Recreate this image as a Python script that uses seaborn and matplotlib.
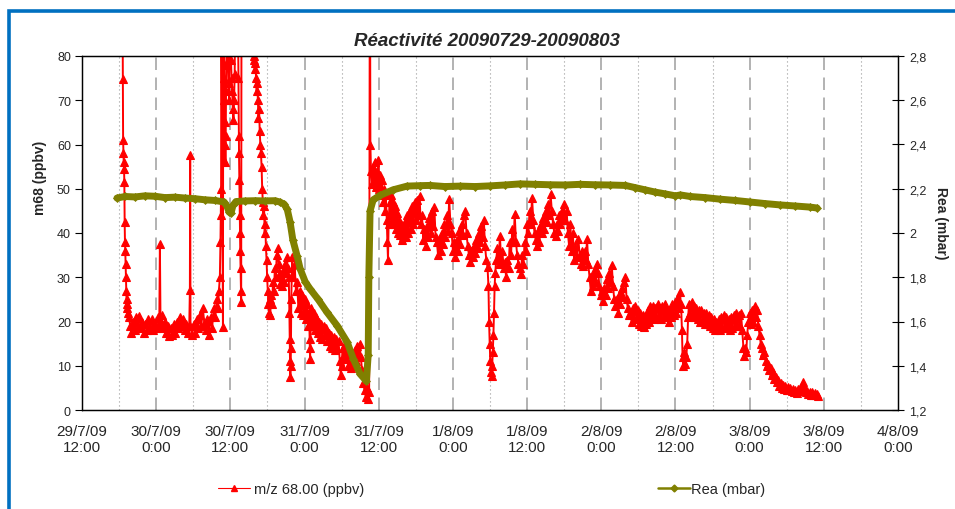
import matplotlib
matplotlib.use("Agg")
import matplotlib.pyplot as plt
import numpy as np
import pandas as pd
import seaborn as sns
from matplotlib.lines import Line2D
from matplotlib.patches import Rectangle

# ---------------- data (hours since 29/7/09 12:00) ----------------
title = "Réactivité 20090729-20090803"
x_tick_hours = [0, 12, 24, 36, 48, 60, 72, 84, 96, 108, 120, 132]
x_tick_labels = ["29/7/09\n12:00", "30/7/09\n0:00", "30/7/09\n12:00", "31/7/09\n0:00",
                 "31/7/09\n12:00", "1/8/09\n0:00", "1/8/09\n12:00", "2/8/09\n0:00",
                 "2/8/09\n12:00", "3/8/09\n0:00", "3/8/09\n12:00", "4/8/09\n0:00"]
m68_ticks = [0, 10, 20, 30, 40, 50, 60, 70, 80]
rea_ticks = [1.2, 1.4, 1.6, 1.8, 2.0, 2.2, 2.4, 2.6, 2.8]
rea_tick_labels = ["1,2", "1,4", "1,6", "1,8", "2", "2,2", "2,4", "2,6", "2,8"]
legend_labels = ["m/z 68.00 (ppbv)", "Rea (mbar)"]

# m/z 68 (ppbv): (hour, value)
m68_start = [
    (6.55, 95), (6.6, 74.7), (6.65, 61), (6.7, 58), (6.75, 56), (6.8, 54.5), (6.85, 51.5),
    (6.9, 42.5), (6.95, 38), (7.0, 36), (7.05, 33), (7.1, 30), (7.15, 27), (7.2, 25),
    (7.25, 24), (7.3, 23), (7.4, 22), (7.6, 21), (7.8, 19),
    (8.0, 17.5), (8.25, 20), (8.5, 18), (8.75, 21), (9.0, 19), (9.25, 21.2), (9.5, 18.5),
    (9.75, 20), (10.0, 17.5), (10.25, 19.5), (10.5, 18), (10.75, 20.5), (11.0, 18.5),
    (11.25, 20.5), (11.5, 18), (11.75, 19.5), (12.0, 18.5), (12.25, 21), (12.5, 19),
    (12.6, 37.5), (12.7, 20), (12.9, 21.5), (13.1, 18.5), (13.35, 20), (13.6, 17.5),
    (13.85, 19), (14.1, 16.8), (14.35, 18.5), (14.6, 17), (14.85, 19.5), (15.1, 17.5),
    (15.35, 20), (15.6, 18.5), (15.85, 21), (16.1, 19), (16.35, 20.5), (16.6, 18),
    (16.85, 19.5), (17.1, 17.5), (17.35, 19), (17.45, 27.2), (17.5, 57.6), (17.55, 19),
    (17.8, 17), (18.05, 19.5), (18.3, 17.5), (18.55, 20.5), (18.8, 18.5), (19.05, 21.5),
    (19.3, 19), (19.55, 23), (19.8, 19.5), (20.05, 18), (20.3, 20.5), (20.55, 17),
    (20.8, 21), (21.05, 18.5), (21.3, 23), (21.55, 21), (21.8, 25), (22.0, 23),
]
m68_morning = [
    (22.15, 27), (22.3, 30), (22.4, 38), (22.45, 44), (22.5, 50), (22.55, 95), (22.8, 18.8),
    (22.85, 95), (23.0, 75), (23.05, 70), (23.1, 65), (23.15, 60), (23.2, 56), (23.25, 62),
    (23.3, 72), (23.35, 78), (23.4, 95), (23.6, 79), (23.7, 74), (23.8, 70), (23.9, 95),
    (24.1, 79), (24.2, 75), (24.3, 72), (24.4, 68), (24.5, 65.6), (24.6, 70), (24.7, 76),
    (24.8, 95), (25.2, 95), (25.3, 75), (25.35, 62), (25.4, 58), (25.45, 52), (25.5, 44),
    (25.55, 40), (25.6, 36), (25.65, 32), (25.7, 27), (25.75, 24.5), (25.8, 95),
    (26.5, 110), (27.0, 110), (27.6, 95), (27.75, 80), (27.85, 79), (27.95, 77),
    (28.05, 78.5), (28.15, 75), (28.25, 72), (28.35, 74), (28.45, 70), (28.55, 66),
    (28.65, 68), (28.75, 63), (28.85, 60), (28.95, 58), (29.05, 55), (29.15, 50),
    (29.25, 47), (29.35, 44), (29.45, 46), (29.55, 40), (29.65, 42), (29.75, 37),
    (29.85, 34), (29.95, 30), (30.05, 27), (30.15, 24), (30.25, 22), (30.35, 25),
    (30.45, 21.5), (30.6, 26), (30.75, 24), (30.9, 29), (31.05, 27), (31.2, 32),
    (31.35, 30), (31.5, 35), (31.65, 36.5), (31.8, 33), (31.95, 31), (32.1, 28.5),
    (32.25, 30), (32.4, 28), (32.55, 31.5), (32.7, 29), (32.85, 33), (33.0, 31),
    (33.15, 34.5), (33.3, 32), (33.45, 30), (33.55, 22), (33.6, 16), (33.65, 11),
    (33.7, 7.5), (33.75, 10), (33.8, 14), (33.85, 25),
]
m68_decline = [
    (34.0, 34.5), (34.2, 30), (34.4, 33), (34.6, 27), (34.8, 29), (35.0, 23), (35.2, 27),
    (35.4, 22), (35.6, 26), (35.8, 21.5), (36.0, 25), (36.2, 20.5), (36.4, 24), (36.6, 19),
    (36.75, 22), (36.85, 14), (36.9, 11.5), (36.95, 16), (37.1, 23), (37.3, 19), (37.5, 22),
    (37.7, 18), (37.9, 21), (38.1, 17.5), (38.3, 20), (38.5, 16.5), (38.7, 19.5), (38.9, 16),
    (39.1, 19), (39.3, 17), (39.5, 18.5), (39.7, 15.5), (39.9, 17.5), (40.1, 14.5),
    (40.3, 17), (40.5, 14), (40.7, 16.5), (40.9, 13.5), (41.1, 16), (41.3, 14), (41.5, 15.5),
    (41.7, 11), (41.85, 8), (42.0, 10), (42.15, 14), (42.3, 12), (42.5, 15), (42.7, 11.5),
    (42.9, 14), (43.1, 10), (43.3, 13), (43.5, 9.5), (43.7, 12.5), (43.9, 10), (44.1, 13.5),
    (44.3, 11), (44.5, 14.5), (44.7, 12), (44.9, 15), (45.1, 12), (45.3, 9), (45.5, 6),
    (45.7, 4.5), (45.9, 3), (46.1, 5), (46.3, 2.5), (46.45, 4),
]
m68_day2 = [
    (46.55, 95), (46.6, 95), (46.65, 60), (46.75, 54), (46.9, 51), (47.05, 55), (47.2, 52),
    (47.35, 56), (47.5, 50.5), (47.65, 54), (47.8, 51), (47.95, 56.5), (48.1, 50),
    (48.25, 53), (48.4, 48.5), (48.55, 52), (48.7, 47), (48.85, 50), (49.0, 45),
    (49.15, 48.5), (49.3, 43), (49.4, 38), (49.5, 34), (49.6, 42), (49.75, 47), (49.9, 44),
    (50.05, 48.5), (50.2, 43), (50.35, 47), (50.5, 42), (50.65, 46), (50.8, 41),
    (50.95, 44.5), (51.1, 40), (51.25, 43), (51.4, 39.5), (51.55, 42), (51.7, 38.5),
    (51.85, 41.5), (52.0, 39), (52.2, 42.5), (52.4, 39), (52.6, 44), (52.8, 40), (53.0, 45),
    (53.2, 41), (53.4, 46), (53.6, 42), (53.8, 47), (54.0, 43), (54.2, 47.5), (54.4, 44),
    (54.6, 48.4), (54.8, 42), (55.0, 44), (55.2, 38.5), (55.4, 41), (55.6, 37), (55.8, 41.5),
    (56.0, 39), (56.2, 43.5), (56.4, 40), (56.6, 45), (56.8, 41.5), (57.0, 45.8), (57.2, 39),
    (57.4, 38), (57.6, 35), (57.8, 38.5), (58.0, 36), (58.2, 40), (58.4, 37.5), (58.6, 42),
    (58.8, 39), (59.0, 44), (59.2, 40.5), (59.4, 47.7), (59.6, 42), (59.8, 40), (60.0, 36),
    (60.2, 38), (60.4, 34.6), (60.6, 38.5), (60.8, 36), (61.0, 40.5), (61.2, 37.5),
    (61.4, 42), (61.6, 39.5), (61.8, 44), (62.0, 45), (62.2, 40), (62.4, 37), (62.6, 35),
    (62.8, 33.4), (63.0, 36), (63.2, 34.5), (63.4, 37), (63.6, 35.5), (63.8, 38.5),
    (64.0, 36.5), (64.2, 40), (64.4, 38), (64.6, 41.5), (64.8, 39), (65.0, 43), (65.2, 37),
    (65.4, 34), (65.6, 32.3), (65.75, 28), (65.85, 20), (65.95, 15), (66.05, 11),
    (66.15, 8.5), (66.25, 7.7), (66.35, 10), (66.45, 13), (66.55, 17), (66.65, 22),
    (66.75, 28), (66.85, 31),
    (67.0, 34), (67.2, 36.5), (67.4, 33), (67.6, 39.4), (67.8, 34), (68.0, 36), (68.2, 32),
    (68.4, 33.5), (68.6, 30), (68.8, 34), (69.0, 32), (69.2, 38), (69.4, 35), (69.6, 41),
    (69.8, 38), (70.0, 44.3), (70.2, 38), (70.4, 35), (70.6, 33), (70.8, 32), (71.0, 30.7),
    (71.2, 35), (71.4, 33), (71.6, 38), (71.8, 36), (72.0, 42), (72.2, 40), (72.4, 45),
    (72.6, 42), (72.8, 48), (73.0, 43), (73.2, 40), (73.4, 38.5), (73.6, 37), (73.8, 40.5),
    (74.0, 38), (74.2, 42), (74.4, 40), (74.6, 43.5), (74.8, 41), (75.0, 45), (75.2, 42.5),
    (75.4, 46.5), (75.6, 44), (75.8, 48.8), (76.0, 45), (76.2, 42), (76.4, 40), (76.6, 39.4),
    (76.8, 42), (77.0, 40.5), (77.2, 44), (77.4, 42), (77.6, 45), (77.8, 43), (78.0, 46.5),
    (78.2, 43), (78.4, 45), (78.6, 40), (78.8, 37), (79.0, 42), (79.2, 36), (79.4, 40),
    (79.6, 34), (79.8, 37),
]
m68_day3 = [
    (80.0, 34.5), (80.3, 38.6), (80.5, 35), (80.7, 33), (80.9, 36), (81.1, 32.6), (81.3, 36),
    (81.5, 34), (81.7, 38.6), (81.9, 33), (82.1, 30), (82.3, 27), (82.5, 30), (82.7, 28),
    (82.9, 31.5), (83.1, 29), (83.3, 33), (83.5, 31), (83.7, 28), (83.9, 26), (84.1, 27),
    (84.3, 24.6), (84.5, 27.5), (84.7, 26), (84.9, 29.5), (85.1, 27.5), (85.3, 31),
    (85.5, 29), (85.7, 32.8), (85.9, 28), (86.1, 25), (86.3, 23.5), (86.5, 25), (86.7, 22),
    (86.9, 26), (87.1, 24), (87.3, 27.5), (87.5, 25.5), (87.7, 29), (87.9, 30), (88.1, 25),
    (88.3, 23), (88.5, 21.5), (88.7, 22), (88.9, 20), (89.1, 23), (89.3, 20.5), (89.5, 23.5),
    (89.7, 21), (89.9, 22.5), (90.1, 19.5), (90.3, 22), (90.5, 19), (90.7, 21.5),
    (90.9, 18.8), (91.1, 21), (91.3, 19.5), (91.5, 22.5), (91.7, 20), (91.9, 23.5),
    (92.1, 21), (92.3, 23.5), (92.5, 20.5), (92.7, 23), (92.9, 21), (93.1, 24), (93.3, 21.5),
    (93.5, 23), (93.7, 20.5), (93.9, 23.5), (94.1, 21), (94.3, 24), (94.5, 21), (94.7, 22.5),
    (94.9, 20), (95.1, 22.5), (95.3, 21), (95.5, 24), (95.7, 21.5), (95.9, 24.5), (96.1, 22),
    (96.3, 25), (96.5, 23), (96.7, 26.7), (96.9, 24),
]
m68_end = [
    (97.05, 18), (97.15, 12), (97.3, 10), (97.45, 13), (97.6, 10.5), (97.75, 12), (97.9, 15),
    (98.05, 21), (98.2, 24), (98.4, 22), (98.6, 24.5), (98.8, 21.5), (99.0, 23.5), (99.2, 21),
    (99.4, 23), (99.6, 20.5), (99.8, 22.5), (100.0, 20), (100.2, 22.5), (100.4, 20.5),
    (100.6, 22), (100.8, 19.5), (101.0, 22), (101.2, 19.5), (101.4, 21.5), (101.6, 19),
    (101.8, 21), (102.0, 18.5), (102.2, 20.5), (102.4, 18), (102.6, 20), (102.8, 18.5),
    (103.0, 20.5), (103.2, 18), (103.4, 21), (103.6, 18.5), (103.8, 21.5), (104.0, 19),
    (104.2, 21), (104.4, 18.5), (104.6, 20.5), (104.8, 18), (105.0, 21), (105.2, 18.5),
    (105.4, 21.5), (105.6, 19), (105.8, 22), (106.0, 19.5), (106.2, 21.5), (106.4, 19),
    (106.6, 22), (106.8, 18), (107.0, 14), (107.15, 12.2), (107.3, 14), (107.45, 13),
    (107.6, 17), (107.8, 20), (108.0, 22), (108.2, 19.5), (108.4, 22.5), (108.6, 20),
    (108.8, 23.5), (109.0, 21), (109.2, 22.5), (109.4, 19), (109.6, 17), (109.8, 15),
    (110.0, 14), (110.2, 12.5), (110.4, 13), (110.6, 11), (110.8, 10), (111.0, 10.5),
    (111.2, 9), (111.4, 9.5), (111.6, 8), (111.8, 8.5), (112.0, 7), (112.2, 7.5),
    (112.4, 6.3), (112.6, 6.8), (112.8, 5.5), (113.0, 6), (113.2, 5), (113.4, 5.6),
    (113.6, 4.8), (113.8, 5.4), (114.0, 4.6), (114.2, 5.2), (114.4, 4.5), (114.6, 5),
    (114.8, 4.2), (115.0, 4.8), (115.2, 4), (115.4, 4.6), (115.6, 3.9), (115.8, 4.7),
    (116.0, 4.2), (116.3, 5.2), (116.6, 6.3), (116.9, 4.8), (117.1, 4), (117.3, 4.4),
    (117.5, 3.6), (117.7, 4.1), (117.9, 3.5), (118.1, 4), (118.3, 3.4), (118.5, 3.9),
    (118.7, 3.3), (118.9, 3.6), (119.0, 3.2),
]

# Rea (mbar): (hour, value)
rea_points = [
    (5.66, 2.158), (6.96, 2.165), (8.58, 2.163), (10.19, 2.168), (11.81, 2.166),
    (13.43, 2.160), (15.05, 2.162), (16.67, 2.158), (18.28, 2.155), (19.9, 2.150),
    (21.52, 2.147), (22.98, 2.140), (23.46, 2.120), (23.79, 2.095), (24.1, 2.09),
    (24.43, 2.125), (24.9, 2.142), (26.38, 2.145), (28.0, 2.146), (29.6, 2.145),
    (31.23, 2.146), (32.0, 2.14), (32.7, 2.13), (33.2, 2.107), (33.66, 2.05), (34.1, 1.97),
    (34.8, 1.896), (35.3, 1.837), (36.1, 1.78), (36.9, 1.747), (38.2, 1.70), (39.6, 1.643),
    (41.3, 1.58), (42.9, 1.507), (43.9, 1.43), (45.0, 1.363), (46.0, 1.33), (46.3, 1.45),
    (46.4, 1.8), (46.6, 2.1), (47.1, 2.15), (48.2, 2.17), (50.3, 2.195), (52.6, 2.212),
    (54.7, 2.214), (56.3, 2.215), (58.7, 2.21), (61.2, 2.212), (63.6, 2.21), (66.0, 2.213),
    (68.4, 2.217), (70.9, 2.222), (73.3, 2.22), (75.7, 2.218), (78.2, 2.217), (80.6, 2.22),
    (83.0, 2.218), (85.4, 2.217), (87.9, 2.215), (89.5, 2.205), (91.1, 2.195),
    (92.7, 2.185), (94.3, 2.177), (96.0, 2.168), (96.8, 2.172), (98.4, 2.165),
    (100.8, 2.16), (103.2, 2.153), (105.7, 2.147), (108.1, 2.140), (110.5, 2.133),
    (112.9, 2.127), (115.4, 2.122), (117.8, 2.117), (118.9, 2.113),
]

m68_df = pd.DataFrame(m68_start + m68_morning + m68_decline + m68_day2 + m68_day3 + m68_end,
                      columns=["hour", "ppbv"])
rea_df = pd.DataFrame(rea_points, columns=["hour", "mbar"])

# ---------------- styling ----------------
sns.set_style("white")
plt.rcParams["font.family"] = ["Liberation Sans", "DejaVu Sans"]

RED = "#FF0000"
OLIVE = "#808000"

fig = plt.figure(figsize=(9.55, 5.10), dpi=100)
W, H = 955, 510
ax = fig.add_axes([82 / W, 1 - 411 / H, (898 - 82) / W, (411 - 57) / H])
ax2 = ax.twinx()

# vertical guide lines (dashed every 12 h, dotted in between)
for h in x_tick_hours[1:-1]:
    ax.axvline(h, color="#a6a6a6", lw=1.2, linestyle=(0, (7.5, 4.5)), zorder=0.5)
for h in x_tick_hours[:-1]:
    ax.axvline(h + 6, color="#9a9a9a", lw=0.8, linestyle=(0, (1, 2.6)), zorder=0.5)

sns.lineplot(data=m68_df, x="hour", y="ppbv", ax=ax, color=RED, linewidth=1.4,
             marker="^", markersize=6.0, markeredgecolor=RED, markeredgewidth=0.8,
             estimator=None, sort=False, legend=False)
sns.lineplot(data=rea_df, x="hour", y="mbar", ax=ax2, color=OLIVE, linewidth=5,
             marker="D", markersize=4.5, markeredgecolor=OLIVE, markeredgewidth=0.5,
             estimator=None, sort=False, legend=False)

ax.set_xlim(x_tick_hours[0], x_tick_hours[-1])
ax.set_ylim(m68_ticks[0], m68_ticks[-1])
ax2.set_ylim(rea_ticks[0], rea_ticks[-1])

ax.set_xticks(x_tick_hours)
ax.set_xticklabels(x_tick_labels, fontsize=11, linespacing=1.15)
ax.set_yticks(m68_ticks)
ax.set_yticklabels([str(t) for t in m68_ticks], fontsize=9)
ax2.set_yticks(rea_ticks)
ax2.set_yticklabels(rea_tick_labels, fontsize=9)

ax.tick_params(axis="x", direction="out", length=5, width=0.8, color="black", pad=5)
ax.tick_params(axis="y", direction="out", length=5, width=0.8, color="black", pad=3)
ax2.tick_params(axis="y", direction="inout", length=8, width=0.8, color="black", pad=4)

for a in (ax, ax2):
    for s in a.spines.values():
        s.set_visible(True)
        s.set_color("black")
        s.set_linewidth(0.9)
ax.set_xlabel("")
ax.set_ylabel("")
ax2.set_ylabel("")
ax.grid(False)
ax2.grid(False)

# texts
fig.text(487 / W, 1 - 42 / H, title, ha="center", va="center", fontsize=13.5,
         fontweight="bold", fontstyle="italic")
fig.text(40 / W, 1 - 178 / H, "m68 (ppbv)", ha="center", va="center", rotation=90,
         fontsize=10, fontweight="bold")
fig.text(941 / W, 1 - 223 / H, "Rea (mbar)", ha="center", va="center", rotation=270,
         fontsize=10, fontweight="bold")

# legend (two separate entries below the plot)
h_red = Line2D([], [], color=RED, lw=0.8, marker="^", markersize=4.5, markeredgecolor=RED)
h_oli = Line2D([], [], color=OLIVE, lw=1.8, marker="D", markersize=3.5, markeredgecolor=OLIVE)
leg1 = fig.legend(handles=[h_red], labels=[legend_labels[0]], loc="center left",
                  bbox_to_anchor=(212 / W, 1 - 490 / H), frameon=False, fontsize=10.5,
                  handlelength=2.2, handletextpad=0.3, borderaxespad=0)
leg2 = fig.legend(handles=[h_oli], labels=[legend_labels[1]], loc="center left",
                  bbox_to_anchor=(652 / W, 1 - 490 / H), frameon=False, fontsize=10.5,
                  handlelength=2.2, handletextpad=0.1, borderaxespad=0)

# blue outer frame
fig.patches.append(Rectangle((9 / W, -0.2), 1.2, 1.2 - 11.5 / H, transform=fig.transFigure,
                             fill=False, edgecolor="#0070C0", linewidth=2.6, zorder=10))

fig.savefig("out.png", dpi=100)
